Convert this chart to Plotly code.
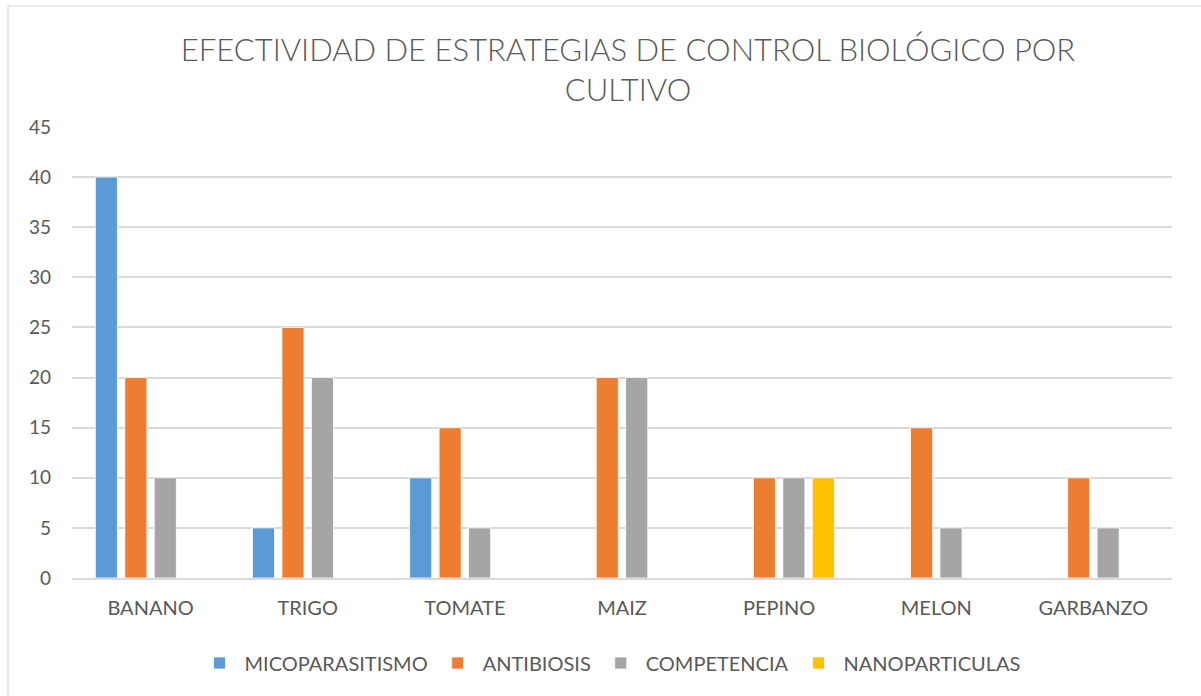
import plotly.graph_objects as go

categories = ["BANANO", "TRIGO", "TOMATE", "MAIZ", "PEPINO", "MELON", "GARBANZO"]
micoparasitismo = [40, 5, 10, 0, 0, 0, 0]
antibiosis = [20, 25, 15, 20, 10, 15, 10]
competencia = [10, 20, 5, 20, 10, 5, 5]
nanoparticulas = [0, 0, 0, 0, 10, 0, 0]

series = [
    ("MICOPARASITISMO", micoparasitismo, "#5B9BD5"),
    ("ANTIBIOSIS", antibiosis, "#ED7D31"),
    ("COMPETENCIA", competencia, "#A5A5A5"),
    ("NANOPARTICULAS", nanoparticulas, "#FFC000"),
]

W, H = 1201, 696
L, R, T, B = 72, 29, 127, 118
pw, ph = W - L - R, H - T - B

fig = go.Figure()
for name, vals, col in series:
    fig.add_trace(go.Bar(
        x=categories, y=vals, name=name,
        marker=dict(color=col, line=dict(color="white", width=0.8)),
    ))

def px_x(p):
    return (p - L) / pw

def px_y(p):
    return (H - B - p) / ph

fig.add_shape(type="rect", xref="paper", yref="paper",
              x0=px_x(8), x1=px_x(1210), y0=px_y(6), y1=px_y(710),
              line=dict(color="#D9D9D9", width=1.2), fillcolor="rgba(0,0,0,0)", layer="below")

fig.update_layout(
    width=W, height=H,
    margin=dict(l=L, r=R, t=T, b=B),
    paper_bgcolor="white", plot_bgcolor="white",
    barmode="group", bargap=0.25, bargroupgap=0.25,
    title=dict(
        text="EFECTIVIDAD DE ESTRATEGIAS DE CONTROL BIOLÓGICO POR<br>CULTIVO",
        x=px_x(628), xanchor="center", xref="paper",
        y=1 - 61 / H, yanchor="top", yref="container",
        font=dict(family="Lato, sans-serif", size=31, color="#595959", weight=300),
    ),
    font=dict(family="Lato, Calibri, sans-serif", color="#595959"),
    xaxis=dict(
        tickfont=dict(size=20, color="#595959"),
        showgrid=False, showline=True, linecolor="#D9D9D9", linewidth=1.5,
        ticks="", ticklabelstandoff=11,
    ),
    yaxis=dict(
        range=[0, 45], dtick=5, tickfont=dict(size=19, color="#595959"),
        showgrid=True, gridcolor="#D9D9D9", gridwidth=1.5,
        zeroline=False, showline=False, ticks="", ticklabelstandoff=20,
    ),
    legend=dict(
        orientation="h", x=px_x(610), xanchor="center",
        y=1 - 663 / H, yanchor="middle", yref="container",
        font=dict(size=20, color="#595959"), itemwidth=40, traceorder="normal",
    ),
)

fig.write_html("out.html", config={"displayModeBar": False},
               post_script="document.body.style.margin='0';")
